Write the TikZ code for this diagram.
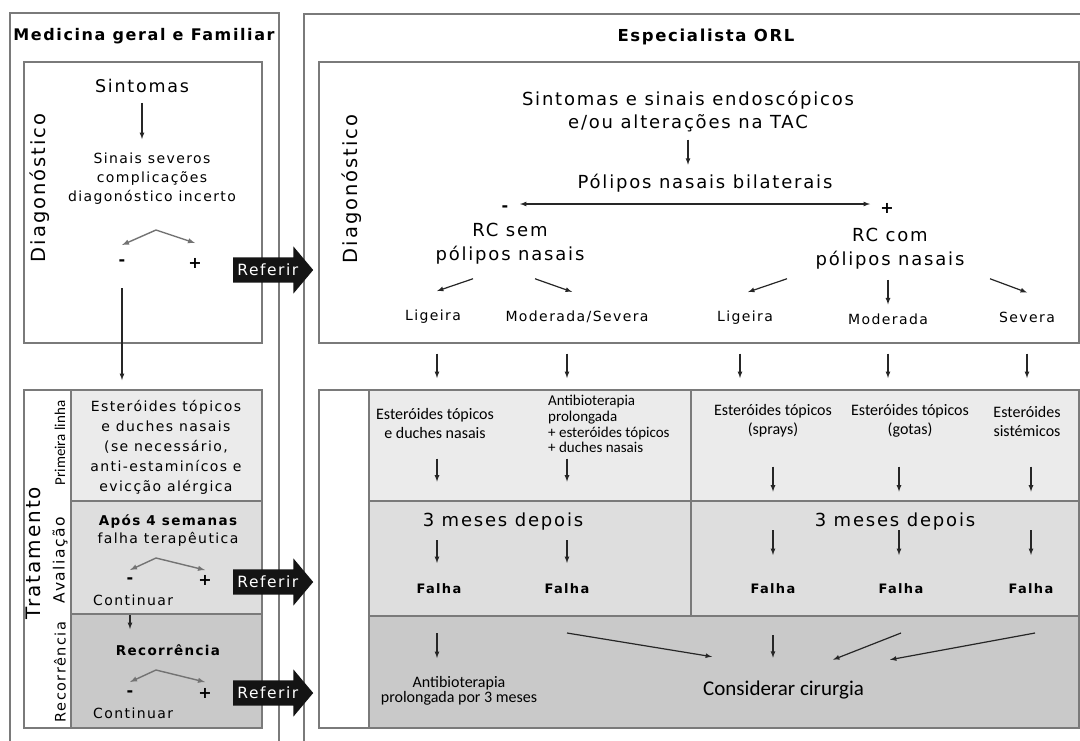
\documentclass[tikz,border=0pt]{standalone}
\usepackage{fontspec}
\usetikzlibrary{shapes.arrows}
\newfontfamily\dvs[LetterSpace=10]{DejaVu Sans}
\newfontfamily\cbr{Carlito}
\newcommand{\fsz}[2]{\fontsize{#1}{#2}\selectfont}

\begin{document}
\begin{tikzpicture}[x=1pt, y=-1pt, >=latex,
                    box/.style={draw=black!52, line width=1.6pt, fill=white, anchor=north west, inner sep=0pt},
                    rowA/.style={box, fill=black!8}, rowB/.style={box, fill=black!13}, rowC/.style={box, fill=black!21},
                    txt/.style={inner sep=0pt, align=center, font=\dvs\fsz{14}{19}},
                    cbt/.style={inner sep=0pt, align=center, font=\cbr\fsz{16}{19}},
                    sign/.style={inner sep=0pt, font=\dvs\bfseries\fsz{16}{18}},
                    arr/.style={->, line width=1.2pt, black!85},
                    fork/.style={<->, line width=1.4pt, black!55},
                    referir/.style={single arrow, fill=black!92, text=white, font=\dvs\fsz{15.5}{18},
                      inner xsep=1pt, inner ysep=6.5pt, single arrow head extend=11pt,
                      single arrow tip angle=100, minimum height=80pt, anchor=tail}]

  \useasboundingbox (0,0) rectangle (1080,740);

  % frames
  \node[box, minimum width=269pt, minimum height=760pt] (lfr) at (9,12) {};
  \node[box, minimum width=800pt, minimum height=760pt] (rfr) at (303,13) {};
  \node[box, minimum width=238pt, minimum height=281pt] (ldg) at (23,61) {};
  \node[box, minimum width=238pt, minimum height=338pt] (ltr) at (23,389) {};
  \node[rowA, minimum width=191pt, minimum height=111pt] (lr1) at (70,389) {};
  \node[rowB, minimum width=191pt, minimum height=113pt] (lr2) at (70,500) {};
  \node[rowC, minimum width=191pt, minimum height=114pt] (lr3) at (70,613) {};
  \node[box, minimum width=760pt, minimum height=281pt] (rdg) at (318,61) {};
  \node[box, minimum width=760pt, minimum height=338pt] (rtr) at (318,389) {};
  \node[rowA, minimum width=322pt, minimum height=111pt] (rr1a) at (368,389) {};
  \node[rowA, minimum width=388pt, minimum height=111pt] (rr1b) at (690,389) {};
  \node[rowB, minimum width=322pt, minimum height=115pt] (rr2a) at (368,500) {};
  \node[rowB, minimum width=388pt, minimum height=115pt] (rr2b) at (690,500) {};
  \node[rowC, minimum width=710pt, minimum height=112pt] (rr3) at (368,615) {};

  % medicina geral
  \node[txt, font=\dvs\bfseries\fsz{16}{19}] (mgf) at (144,36) {Medicina geral e Familiar};
  \node[txt, rotate=90, font=\dvs\fsz{19.5}{22}] (ldiag) at (40,188) {Diagonóstico};
  \node[txt, font=\dvs\fsz{17.5}{20}] (sint) at (142,86) {Sintomas};
  \node[txt] (sinais) at (152,179) {Sinais severos\\complicações\\diagonóstico incerto};
  \node[sign] (lm1) at (122,263) {-};
  \node[sign] (lp1) at (195,263) {+};
  \coordinate (la1) at (156,230);

  \node[txt, rotate=90, font=\dvs\fsz{20}{22}] (trat) at (33,553) {Tratamento};
  \node[cbt, rotate=90, font=\cbr\fsz{15}{18}] (prim) at (60,443) {Primeira linha};
  \node[txt, rotate=90, font=\dvs\fsz{15.5}{18}] (aval) at (60,560) {Avaliação};
  \node[txt, rotate=90, font=\dvs\fsz{14.5}{18}] (recl) at (60,672) {Recorrência};
  \node[txt, font=\dvs\fsz{14}{20}] (pl) at (166,447) {Esteróides tópicos\\e duches nasais\\(se necessário,\\anti-estaminícos e\\evicção alérgica};
  \node[txt, font=\dvs\fsz{14}{18}] (apos) at (168,531) {{\bfseries\fsz{13.5}{18}Após 4 semanas}\\falha terapêutica};
  \node[sign] (lm2) at (130,581) {-};
  \node[sign] (lp2) at (205,580) {+};
  \coordinate (la2) at (156,558);
  \node[txt, anchor=west] (cont1) at (93,600) {Continuar};
  \node[txt, font=\dvs\bfseries\fsz{13.5}{16}] (rec) at (168,650) {Recorrência};
  \node[sign] (lm3) at (130,694) {-};
  \node[sign] (lp3) at (205,693) {+};
  \coordinate (la3) at (156,670);
  \node[txt, anchor=west] (cont2) at (93,713) {Continuar};

  \node[referir] (ref1) at (233,270) {Referir};
  \node[referir] (ref2) at (233,582) {Referir};
  \node[referir] (ref3) at (233,693) {Referir};

  % especialista
  \node[txt, font=\dvs\bfseries\fsz{16.5}{19}] (orl) at (706,37) {Especialista ORL};
  \node[txt, rotate=90, font=\dvs\fsz{19.5}{22}] (rdiag) at (352,189) {Diagonóstico};
  \node[txt, font=\dvs\fsz{18}{23}] (sse) at (688,112) {Sintomas e sinais endoscópicos\\e/ou alterações na TAC};
  \node[txt, font=\dvs\fsz{18}{22}] (pnb) at (705,183) {Pólipos nasais bilaterais};
  \node[sign] (rm) at (505,209) {-};
  \node[sign] (rp) at (887,208) {+};
  \node[txt, font=\dvs\fsz{18}{24}] (rcsem) at (510,244) {RC sem\\pólipos nasais};
  \node[txt, font=\dvs\fsz{18}{24}] (rccom) at (890,249) {RC com\\pólipos nasais};
  \node[txt] (lig1) at (433,317) {Ligeira};
  \node[txt] (modsev) at (577,317) {Moderada/Severa};
  \node[txt] (lig2) at (745,318) {Ligeira};
  \node[txt] (mod) at (888,319) {Moderada};
  \node[txt] (sev) at (1027,317) {Severa};

  \node[cbt] (t1) at (435,423) {Esteróides tópicos\\e duches nasais};
  \node[cbt, align=left, anchor=north west, font=\cbr\fsz{15}{15.7}] (t2) at (548,395) {Antibioterapia\\prolongada\\+ esteróides tópicos\\+ duches nasais};
  \node[cbt] (t3) at (773,421) {Esteróides tópicos\\(sprays)};
  \node[cbt] (t4) at (910,421) {Esteróides tópicos\\(gotas)};
  \node[cbt] (t5) at (1027,421) {Esteróides\\sistémicos};
  \node[txt, font=\dvs\fsz{18}{22}] (tm1) at (503,522) {3 meses depois};
  \node[txt, font=\dvs\fsz{18}{22}] (tm2) at (895,522) {3 meses depois};
  \node[txt, font=\dvs\bfseries\fsz{13}{16}] (f1) at (439,589) {Falha};
  \node[txt, font=\dvs\bfseries\fsz{13}{16}] (f2) at (567,589) {Falha};
  \node[txt, font=\dvs\bfseries\fsz{13}{16}] (f3) at (773,589) {Falha};
  \node[txt, font=\dvs\bfseries\fsz{13}{16}] (f4) at (901,589) {Falha};
  \node[txt, font=\dvs\bfseries\fsz{13}{16}] (f5) at (1031,589) {Falha};
  \node[cbt, font=\cbr\fsz{16}{15}] (ab) at (459,691) {Antibioterapia\\prolongada por 3 meses};
  \node[cbt, anchor=west, font=\cbr\fsz{21}{24}] (cc) at (703,690) {Considerar cirurgia};

  % left arrows
  \path[arr] (sint.south) edge[shorten <=10pt, shorten >=14pt] (sint.south |- sinais.north);
  \draw[fork] ([yshift=18pt]lm1.center) -- (la1) -- ([yshift=20pt]lp1.center);
  \draw[arr] ([yshift=-25pt]lm1.center) -- ([yshift=9pt]lm1 |- ltr.north);
  \draw[fork] ([yshift=11pt]lm2.center) -- (la2) -- ([yshift=10pt]lp2.center);
  \draw[arr] ([yshift=-2pt]lm2 |- lr3.north) -- ([yshift=-16pt]lm2 |- lr3.north);
  \draw[fork] ([yshift=12pt]lm3.center) -- (la3) -- ([yshift=11pt]lp3.center);

  % right diagnosis arrows
  \path[arr] (sse.south) edge[shorten <=7pt, shorten >=9pt] (sse.south |- pnb.north);
  \draw[arr, <->] ([xshift=15pt, yshift=5pt]rm.center) -- ([xshift=-17pt, yshift=4pt]rp.center);
  \draw[arr] ([xshift=-37pt, yshift=-14pt]rcsem.south) -- ([xshift=4pt, yshift=19pt]lig1.north);
  \draw[arr] ([xshift=25pt, yshift=-14pt]rcsem.south) -- ([xshift=-5pt, yshift=19pt]modsev.north);
  \draw[arr] ([xshift=-103pt, yshift=-9pt]rccom.south) -- ([xshift=3pt, yshift=19pt]lig2.north);
  \draw[arr] ([xshift=-2pt, yshift=-10pt]rccom.south) -- ([yshift=9pt]mod.north);
  \draw[arr] ([xshift=100pt, yshift=-9pt]rccom.south) -- ([yshift=19pt]sev.north);
  \foreach \n/\dx in {lig1/4, modsev/-10, lig2/-5, mod/0, sev/0}
    \draw[arr] ([xshift=\dx pt, yshift=-10pt]\n |- rdg.south) -- ([xshift=\dx pt, yshift=11pt]\n |- rtr.north);

  % treatment arrows
  \foreach \f/\dx in {f1/-2, f2/0} {
    \draw[arr] ([xshift=\dx pt, yshift=43pt]\f |- rr1a.south) -- ([xshift=\dx pt, yshift=20pt]\f |- rr1a.south);
    \draw[arr] ([xshift=\dx pt, yshift=-40pt]\f |- rr2a.north) -- ([xshift=\dx pt, yshift=-63pt]\f |- rr2a.north);
  }
  \foreach \f/\dx in {f3/0, f4/-2, f5/0} {
    \draw[arr] ([xshift=\dx pt, yshift=35pt]\f |- rr1b.south) -- ([xshift=\dx pt, yshift=10pt]\f |- rr1b.south);
    \draw[arr] ([xshift=\dx pt, yshift=-30pt]\f |- rr2b.north) -- ([xshift=\dx pt, yshift=-55pt]\f |- rr2b.north);
  }
  \draw[arr] ([xshift=-2pt, yshift=-18pt]f1 |- rr3.north) -- ([xshift=-2pt, yshift=-43pt]f1 |- rr3.north);
  \draw[arr] ([yshift=-18pt]f2 |- rr3.north) -- ([xshift=9pt, yshift=24pt]cc.north west);
  \draw[arr] ([yshift=-20pt]f3 |- rr3.north) -- ([xshift=70pt, yshift=23pt]cc.north west);
  \draw[arr] ([yshift=-18pt]f4 |- rr3.north) -- ([xshift=130pt, yshift=21pt]cc.north west);
  \draw[arr] ([xshift=4pt, yshift=-18pt]f5 |- rr3.north) -- ([xshift=187pt, yshift=21pt]cc.north west);
\end{tikzpicture}
\end{document}
